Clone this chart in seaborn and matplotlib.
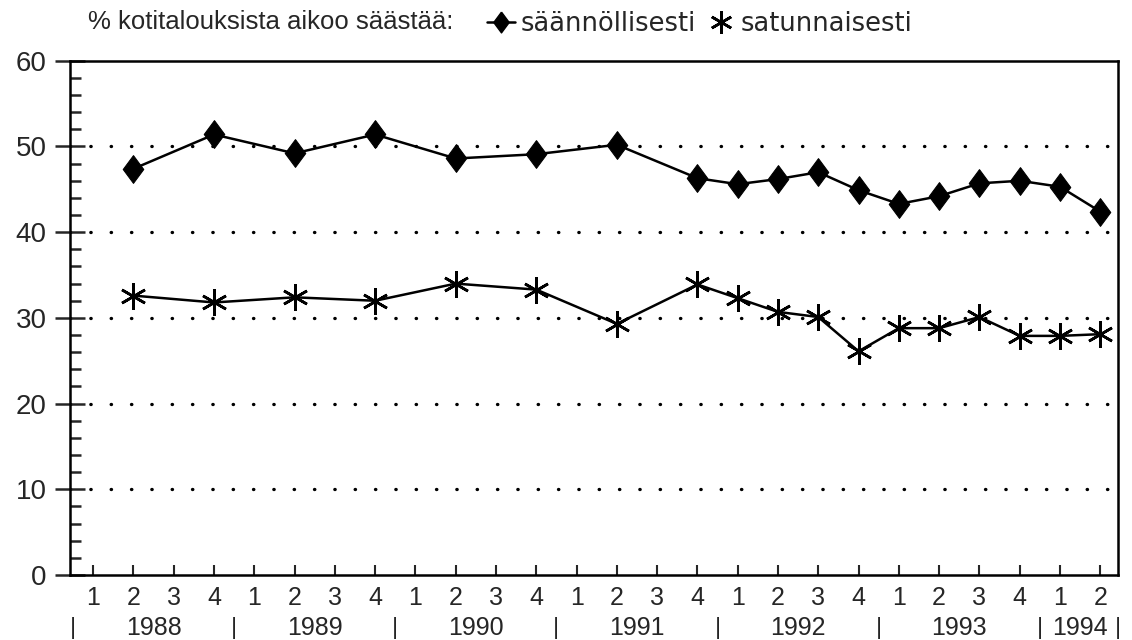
import pandas as pd
import matplotlib.pyplot as plt
import seaborn as sns
from matplotlib.ticker import MultipleLocator
from matplotlib.lines import Line2D

# Quarters shown on the x axis (1988Q1 - 1994Q2)
periods = [
    "1988Q1", "1988Q2", "1988Q3", "1988Q4",
    "1989Q1", "1989Q2", "1989Q3", "1989Q4",
    "1990Q1", "1990Q2", "1990Q3", "1990Q4",
    "1991Q1", "1991Q2", "1991Q3", "1991Q4",
    "1992Q1", "1992Q2", "1992Q3", "1992Q4",
    "1993Q1", "1993Q2", "1993Q3", "1993Q4",
    "1994Q1", "1994Q2",
]
quarter_labels = [
    "1", "2", "3", "4", "1", "2", "3", "4", "1", "2", "3", "4",
    "1", "2", "3", "4", "1", "2", "3", "4", "1", "2", "3", "4",
    "1", "2",
]
years = ["1988", "1989", "1990", "1991", "1992", "1993", "1994"]

# Survey rounds
survey_periods = [
    "1988Q2", "1988Q4", "1989Q2", "1989Q4", "1990Q2", "1990Q4",
    "1991Q2", "1991Q4", "1992Q1", "1992Q2", "1992Q3", "1992Q4",
    "1993Q1", "1993Q2", "1993Q3", "1993Q4", "1994Q1", "1994Q2",
]
saannollisesti = [
    47.4, 51.4, 49.2, 51.4, 48.6, 49.1,
    50.2, 46.3, 45.6, 46.2, 47.0, 44.9,
    43.3, 44.2, 45.7, 46.0, 45.3, 42.4,
]
satunnaisesti = [
    32.6, 31.8, 32.4, 32.0, 34.0, 33.3,
    29.3, 33.9, 32.3, 30.7, 30.1, 26.1,
    28.8, 28.8, 30.1, 27.9, 27.9, 28.1,
]

title = "% kotitalouksista aikoo säästää:"
series_names = ["säännöllisesti", "satunnaisesti"]


def main():
    sns.set_style("white")
    plt.rcParams['font.family'] = ['Liberation Sans', 'DejaVu Sans']

    df = pd.DataFrame({
        'period': survey_periods,
        'saannollisesti': saannollisesti,
        'satunnaisesti': satunnaisesti,
    })
    df['x'] = [periods.index(p) for p in df['period']]

    fig = plt.figure(figsize=(11.32, 6.4), dpi=100)
    ax = fig.add_axes([0.062, 0.1016, 0.926, 0.8034])

    # tall diamond and six-armed asterisk like the original
    diamond = [(0, 1), (0.74, 0), (0, -1), (-0.74, 0), (0, 1)]
    star = (6, 2, 0)
    sns.lineplot(data=df, x='x', y='saannollisesti', ax=ax, color='black',
                 linewidth=1.8, marker=diamond, markersize=20,
                 markeredgecolor='black', markerfacecolor='black')
    sns.lineplot(data=df, x='x', y='satunnaisesti', ax=ax, color='black',
                 linewidth=1.8, marker=star, markersize=19,
                 markeredgewidth=1.9, markeredgecolor='black')

    # axes + ticks
    ax.set_xlim(-0.57, 25.45)
    ax.set_ylim(0, 60)
    ax.set_xlabel('')
    ax.set_ylabel('')
    for side in ax.spines.values():
        side.set_color('black')
        side.set_linewidth(1.8)

    ax.yaxis.set_major_locator(MultipleLocator(10))
    ax.yaxis.set_minor_locator(MultipleLocator(2))
    ax.tick_params(axis='y', which='major', direction='inout', length=22,
                   width=1.8, labelsize=20, pad=6, left=True)
    ax.tick_params(axis='y', which='minor', direction='in', length=8,
                   width=1.8, left=True)

    ax.set_xticks(range(len(periods)))
    ax.set_xticklabels(quarter_labels)
    ax.tick_params(axis='x', which='major', direction='in', length=7,
                   width=1.5, labelsize=18, pad=8, bottom=True)

    ax.grid(False)
    for v in [10, 20, 30, 40, 50]:
        ax.axhline(v, color='black', linewidth=2.4, linestyle=(0, (0.1, 6)),
                   dash_capstyle='round', zorder=0)

    # year labels with separators under the quarter numbers
    trans = ax.get_xaxis_transform()
    start = 0
    for yr in years:
        n = sum(1 for p in periods if p.startswith(yr))
        mid = start + (n - 1) / 2
        ax.text(mid, -0.103, yr, transform=trans, ha='center', va='center',
                fontsize=18)
        ax.text(start - 0.5, -0.103, '|', transform=trans, ha='center',
                va='center', fontsize=17)
        start += n
    ax.text(start - 0.55, -0.103, '|', transform=trans, ha='center',
            va='center', fontsize=17)

    # title + legend at the top
    fig.text(88 / 1132, 1 - 22 / 640, title, ha='left', va='center',
             fontsize=18.5)
    handles = [
        Line2D([0], [0], color='black', linewidth=1.8, marker=diamond,
               markersize=15, markerfacecolor='black'),
        Line2D([], [], color='black', linewidth=0, marker=star,
               markersize=16, markeredgewidth=1.9),
    ]
    fig.legend(handles, series_names, loc='center left',
               bbox_to_anchor=(474 / 1132, 1 - 24 / 640), ncol=2,
               frameon=False, handlelength=1.1, handletextpad=0.2,
               columnspacing=0.45, borderpad=0,
               prop={'family': 'DejaVu Sans', 'size': 18.5})

    fig.savefig('out.png', dpi=100)
    plt.close(fig)


if __name__ == '__main__':
    main()
